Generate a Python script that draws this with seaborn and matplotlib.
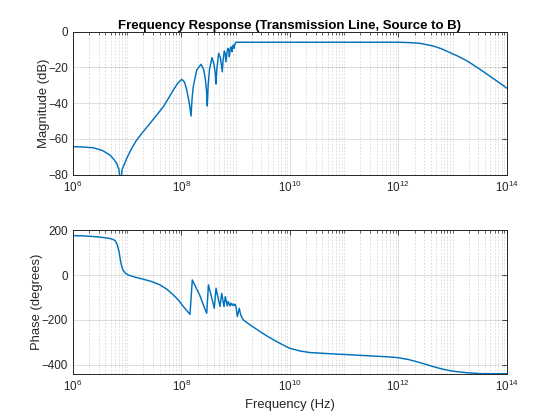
import numpy as np
import pandas as pd
import matplotlib
matplotlib.use("Agg")
import matplotlib.pyplot as plt
import matplotlib.ticker as mticker
import seaborn as sns

# ---- data (log10 of frequency in Hz) ----
mag_logf = [6.0, 6.2, 6.378, 6.55, 6.686, 6.76, 6.809, 6.85, 6.88, 6.91,
            6.993, 7.08, 7.177, 7.3, 7.423, 7.55, 7.668, 7.76, 7.853, 7.93,
            8.007, 8.06, 8.1, 8.148, 8.179, 8.2, 8.221, 8.284, 8.363, 8.41,
            8.437, 8.465, 8.479, 8.495, 8.52, 8.566, 8.6, 8.625, 8.64, 8.655,
            8.689, 8.72, 8.756, 8.77, 8.793, 8.81, 8.824, 8.84, 8.861, 8.875,
            8.885, 8.9, 8.916, 8.927, 8.935, 8.945, 8.959, 8.965, 8.971, 8.99,
            9.008, 9.5, 10.0, 11.0, 12.0, 12.2, 12.4, 12.645, 12.8, 12.953,
            13.1, 13.26, 13.4, 13.567, 13.7, 13.875, 14.0]
mag_db = [-64.3, -64.5, -64.9, -66.5, -69.0, -71.5, -73.6, -77.0, -85.0, -77.0,
          -70.9, -65.5, -60.6, -55.8, -51.3, -46.5, -42.0, -37.5, -32.7, -29.0,
          -26.7, -28.3, -32.7, -40.0, -47.2, -37.0, -30.8, -21.5, -18.3, -21.0,
          -25.2, -33.0, -41.6, -30.0, -21.0, -14.6, -18.0, -23.0, -29.3, -21.0,
          -12.2, -14.5, -22.5, -16.0, -10.9, -12.5, -16.9, -12.0, -9.4, -10.5,
          -14.1, -10.0, -8.5, -9.5, -11.3, -9.0, -7.5, -8.0, -9.4, -6.8,
          -6.0, -6.0, -6.0, -6.0, -6.0, -6.2, -6.6, -8.1, -9.7, -11.8,
          -13.8, -16.3, -19.0, -22.4, -25.2, -28.9, -31.6]

ph_logf = [6.0, 6.2, 6.378, 6.55, 6.686, 6.74, 6.778, 6.8, 6.82, 6.84,
           6.857, 6.875, 6.888, 6.91, 6.931, 6.97, 7.023, 7.15, 7.3, 7.45,
           7.607, 7.73, 7.853, 7.95, 8.037, 8.1, 8.16, 8.203, 8.27, 8.345,
           8.41, 8.468, 8.5, 8.56, 8.608, 8.64, 8.713, 8.745, 8.787, 8.811,
           8.848, 8.866, 8.897, 8.916, 8.94, 8.96, 8.975, 8.99, 9.008, 9.032,
           9.069, 9.095, 9.143, 9.266, 9.45, 9.6, 9.758, 9.9, 10.0, 10.19,
           10.37, 10.8, 11.417, 11.8, 12.0, 12.2, 12.34, 12.5, 12.645, 12.8,
           12.95, 13.1, 13.26, 13.5, 13.8, 14.0]
ph_deg = [177, 176, 173, 169, 164, 160, 155, 147, 135, 118,
          98, 72, 54, 33, 21, 9, 1, -9, -18, -28,
          -43, -62, -88, -112, -140, -158, -175, -21, -55, -92,
          -135, -170, -43, -100, -148, -58, -140, -81, -140, -96,
          -137, -118, -137, -125, -135, -128, -136, -130, -140, -185,
          -148, -178, -200, -222, -252, -275, -297, -315, -327, -339,
          -346, -352, -360, -365, -369, -378, -387, -398, -409, -419,
          -427, -432, -436, -440, -440.5, -440.5]

x_ticks = [1e6, 1e8, 1e10, 1e12, 1e14]
mag_ticks = [-80, -60, -40, -20, 0]
ph_ticks = [-400, -200, 0, 200]

mag_df = pd.DataFrame({"freq": np.power(10.0, mag_logf), "mag": mag_db})
ph_df = pd.DataFrame({"freq": np.power(10.0, ph_logf), "phase": ph_deg})

sns.set_theme(style="white")
plt.rcParams["font.family"] = ["Liberation Sans", "DejaVu Sans"]
plt.rcParams["mathtext.fontset"] = "custom"
plt.rcParams["mathtext.rm"] = "Liberation Sans"
plt.rcParams["mathtext.it"] = "Liberation Sans:italic"
plt.rcParams["mathtext.bf"] = "Liberation Sans:bold"

dark = "#262626"
line_c = "#0072BD"
fs = 8.4
lfs = 9.4

fig = plt.figure(figsize=(5.6, 4.2), dpi=100)
ax1 = fig.add_axes([0.13, 0.5838, 0.775, 0.3412])
ax2 = fig.add_axes([0.13, 0.11, 0.775, 0.3412])

sns.lineplot(data=mag_df, x="freq", y="mag", ax=ax1, color=line_c,
             linewidth=1.05, sort=False, estimator=None)
sns.lineplot(data=ph_df, x="freq", y="phase", ax=ax2, color=line_c,
             linewidth=1.05, sort=False, estimator=None)

for ax, yt in ((ax1, mag_ticks), (ax2, ph_ticks)):
    ax.set_xscale("log")
    ax.set_xlim(1e6, 1e14)
    ax.set_xticks(x_ticks)
    ax.xaxis.set_major_formatter(mticker.LogFormatterSciNotation())
    ax.xaxis.set_minor_locator(mticker.LogLocator(base=10, subs=np.arange(1, 10), numticks=200))
    ax.xaxis.set_minor_formatter(mticker.NullFormatter())
    ax.set_yticks(yt)
    ax.grid(True, which="major", color="#000000", alpha=0.15, linewidth=0.6, linestyle="-")
    ax.grid(True, which="minor", axis="x", color="#000000", alpha=0.16, linewidth=0.6, linestyle=(0, (2, 2)))
    ax.tick_params(which="both", direction="in", top=True, right=True, colors=dark,
                   labelsize=fs, labelcolor=dark, pad=3.5)
    ax.tick_params(which="major", length=3.5, width=0.6)
    ax.tick_params(which="minor", length=2, width=0.5)
    for s in ax.spines.values():
        s.set_color(dark)
        s.set_linewidth(0.7)
        s.set_visible(True)
    ax.set_axisbelow(True)

ax1.set_ylim(-80, 0)
ax2.set_ylim(-441, 200)

ax1.set_xlabel("")
ax1.set_ylabel("Magnitude (dB)", fontsize=lfs, color=dark, labelpad=-1)
ax2.set_ylabel("Phase (degrees)", fontsize=lfs, color=dark, labelpad=-1)
ax2.set_xlabel("Frequency (Hz)", fontsize=lfs, color=dark, labelpad=4)
ax1.set_title("Frequency Response (Transmission Line, Source to B)",
              fontsize=lfs + 0.1, fontweight="bold", color="black", pad=2)

fig.savefig("out.png", dpi=100, facecolor="white")
